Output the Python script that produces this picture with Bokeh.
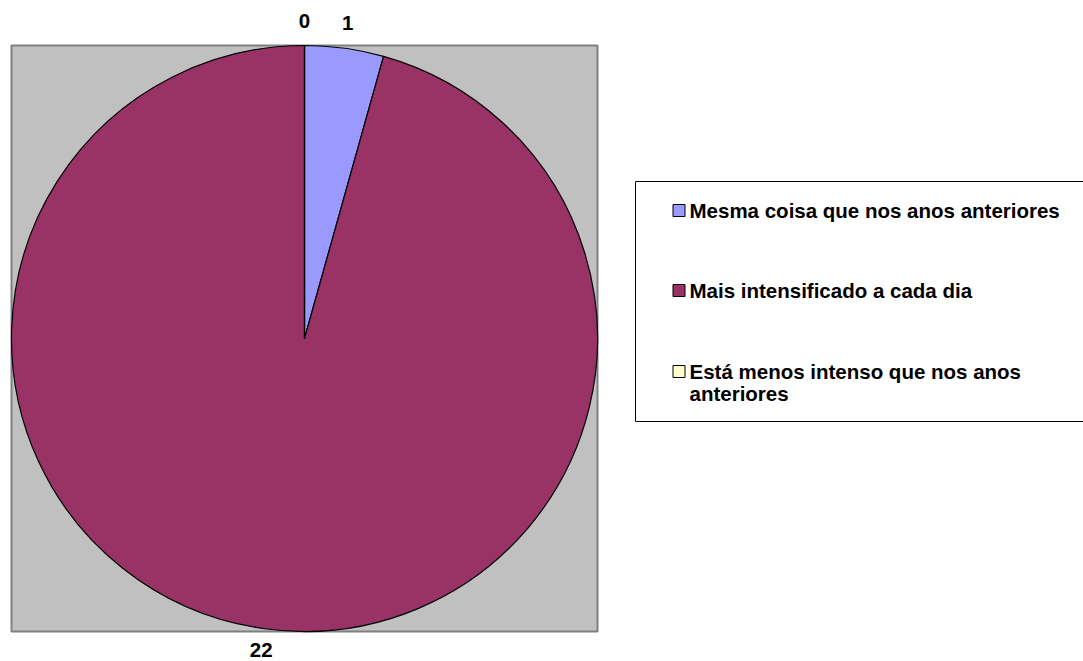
import numpy as np
from bokeh.plotting import figure
from bokeh.models import Range1d, ColumnDataSource
from bokeh.core.properties import value
from bokeh.embed import file_html
from bokeh.resources import INLINE

# ---- data ----
categories = ["Mesma coisa que nos anos anteriores",
              "Mais intensificado a cada dia",
              "Está menos intenso que nos anos\nanteriores"]
counts = [1, 22, 0]
colors = ["#9999FF", "#993366", "#FFFFCC"]

W, H = 1083, 661
SH = 661  # screen height reference


def sy(y):
    return SH - y


p = figure(width=W, height=H, output_backend="svg", toolbar_location=None,
           x_range=Range1d(0, W), y_range=Range1d(SH - H, SH),
           min_border=0)
p.axis.visible = False
p.grid.visible = False
p.outline_line_color = None
p.background_fill_color = "white"
p.border_fill_color = "white"

FONT = value("Liberation Sans")
FS = "20.5px"

# plot area
p.quad(left=[11], right=[597], top=[sy(45)], bottom=[sy(631)],
       fill_color="#C0C0C0", line_color="#808080", line_width=2)

# pie
cx, cy, R = 304, sy(338), 293
vals = np.array(counts, dtype=float)
frac = vals / vals.sum()
cum = np.concatenate([[0], np.cumsum(frac)])
start = np.pi / 2 - 2 * np.pi * cum[:-1]
end = np.pi / 2 - 2 * np.pi * cum[1:]
nz = vals > 0
src = ColumnDataSource(dict(start=start[nz], end=end[nz],
                            color=list(np.array(colors)[nz])))
p.wedge(x=cx, y=cy, radius=R, start_angle="start", end_angle="end",
        direction="clock", fill_color="color", line_color="black",
        line_width=1.2, source=src)
# radial boundary for zero-valued slices
for i in np.where(~nz)[0]:
    a = start[i]
    p.segment(x0=[cx], y0=[cy], x1=[cx + R * np.cos(a)], y1=[cy + R * np.sin(a)],
              line_color="black", line_width=1.2)

# data labels
mid = 2 * np.pi * (cum[:-1] + cum[1:]) / 2
LR = 318
lx = cx + LR * np.sin(mid)
ly = cy + LR * np.cos(mid)
ly = np.maximum(ly, sy(649))
p.text(x=lx, y=ly, text=[str(c) for c in counts], text_font=FONT,
       text_font_style="bold", text_font_size=FS, text_align="center",
       text_baseline="middle", text_color="black")

# legend
p.quad(left=[635], right=[W + 5], top=[sy(181)], bottom=[sy(421)],
       fill_color="white", line_color="#000000", line_width=1)
leg_y = [210, 290, 371]
LH = 22
p.rect(x=[678.5] * 3, y=[sy(v) for v in leg_y], width=12, height=12,
       fill_color=colors, line_color="black", line_width=1)
tx, ty, tt = [], [], []
for cat, yy in zip(categories, leg_y):
    for k, line in enumerate(cat.split("\n")):
        tx.append(689)
        ty.append(sy(yy + k * LH))
        tt.append(line)
p.text(x=tx, y=ty, text=tt, text_font=FONT,
       text_font_style="bold", text_font_size=FS, text_align="left",
       text_baseline="middle", text_color="black")

open("out.html", "w").write(file_html(p, INLINE))
